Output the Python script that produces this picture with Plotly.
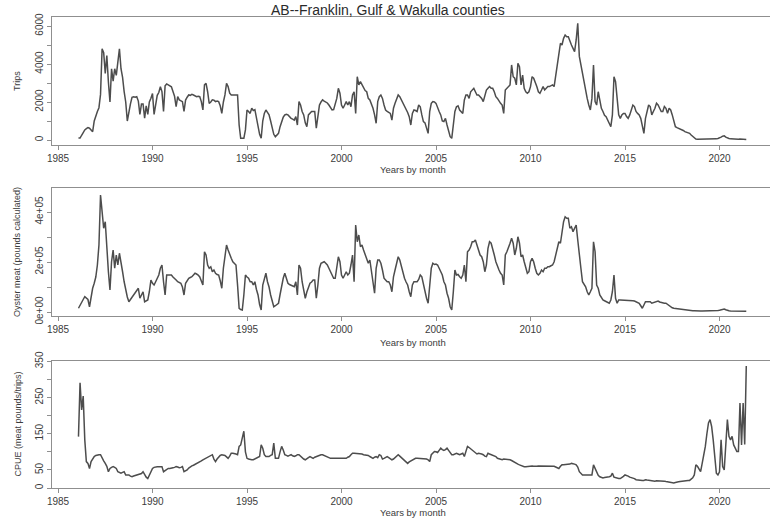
import pandas as pd
import plotly.graph_objects as go

# ---------------- data (monthly, Feb 1986 - Jun 2021) ----------------
start_month = "1986-02-01"

trips = [
    100, 100, 250, 400, 530, 600, 650, 620, 500, 440, 1000,
    1320, 1500, 1700, 2400, 4800, 4600, 3500, 4450, 3050, 2000, 3750, 3100,
    3750, 3400, 4100, 4800, 3750, 3300, 2550, 2000, 1000, 1500, 1900, 2250,
    2280, 2250, 2280, 2050, 1350, 1900, 1900, 1150, 1800, 1350, 2000, 2200,
    2450, 1350, 2000, 2350, 2500, 2800, 2550, 1500, 2850, 2950, 2900, 2850,
    2800, 2550, 2300, 1750, 2280, 2110, 2050, 2020, 1500, 2100, 2250, 2370,
    2350, 2400, 2370, 2300, 2280, 2300, 2280, 2020, 1580, 2900, 2980, 2540,
    1930, 2000, 2110, 2100, 2020, 2050, 2020, 1800, 1400, 2000, 2370, 2980,
    2810, 2460, 2370, 2370, 2370, 2370, 2370, 790, 90, 90, 90, 530,
    1580, 1500, 1400, 1670, 1550, 1600, 1140, 790, 300, 90, 1000, 1400,
    1580, 1450, 1320, 1000, 700, 300, 175, 250, 350, 700, 970, 1200,
    1320, 1350, 1320, 1200, 1140, 1100, 1050, 1230, 790, 2020, 1840, 1500,
    1320, 900, 700, 1320, 1400, 1500, 1500, 1500, 620, 1320, 1840, 2000,
    2110, 2050, 2020, 1950, 1840, 1700, 1580, 1600, 1900, 2190, 2720, 2460,
    1840, 1670, 1840, 2020, 1840, 2020, 1750, 2370, 2540, 1400, 3330, 2900,
    3070, 2900, 2720, 2600, 2540, 2190, 2110, 1900, 1670, 1320, 880, 2020,
    2280, 2370, 2190, 1840, 1580, 1500, 1450, 1400, 1050, 1670, 1930, 2150,
    2370, 2280, 2110, 1930, 1760, 1670, 1450, 1230, 790, 1400, 1580, 1550,
    1500, 1840, 1750, 1320, 970, 900, 620, 350, 1500, 1930, 2020, 2000,
    1930, 1670, 1500, 1320, 1000, 970, 1140, 790, 530, 175, 90, 790,
    1500, 1750, 1800, 1580, 1500, 1400, 2110, 2370, 2370, 2190, 2540, 2630,
    2720, 2540, 2370, 2370, 2280, 2190, 2020, 2370, 2630, 2720, 2810, 2720,
    2720, 2540, 2280, 2190, 2020, 1930, 1840, 1400, 2630, 2720, 2810, 2900,
    3950, 3330, 3250, 2900, 4040, 3860, 2900, 3420, 2720, 2540, 2460, 2540,
    2810, 3330, 3250, 3070, 2810, 2540, 2460, 2630, 2810, 2630, 2720, 2810,
    2810, 2850, 2900, 2810, 3420, 3950, 4385, 5090, 5000, 5350, 5525, 5440,
    5440, 5175, 5000, 4825, 4650, 5265, 6140, 4400, 3950, 3510, 2900, 2630,
    2190, 1840, 1580, 2190, 3950, 2020, 1840, 2540, 2020, 1670, 1500, 1300,
    1230, 1050, 790, 700, 1320, 3330, 3070, 2020, 1320, 1140, 1320, 1400,
    1400, 1230, 1140, 1320, 1580, 1840, 1760, 1500, 1400, 1320, 1140, 790,
    350, 1140, 1500, 1840, 1760, 1320, 1500, 1670, 1930, 1840, 1670, 1500,
    1500, 1760, 1670, 1400, 1670, 1580, 1320, 970, 700, 650, 620, 580,
    530, 500, 440, 420, 380, 350, 260, 175, 100, 50, 40, 40,
    40, 40, 40, 50, 40, 30, 40, 40, 50, 60, 60, 80,
    100, 150, 200, 220, 150, 100, 80, 60, 50, 50, 40, 40,
    40, 50, 40, 40, 40, 30,
]

meat = [
    15000, 25000, 35000, 50000, 61000, 55000, 50000, 21000, 68000, 95000, 115000,
    140000, 188000, 268000, 468000, 400000, 335000, 361000, 241000, 161000, 88000, 201000, 248000,
    175000, 228000, 188000, 235000, 188000, 161000, 121000, 81000, 60000, 41000, 50000, 55000,
    68000, 75000, 81000, 95000, 55000, 70000, 81000, 41000, 45000, 48000, 81000, 128000,
    115000, 108000, 121000, 135000, 148000, 175000, 188000, 121000, 68000, 148000, 148000, 150000,
    148000, 140000, 135000, 128000, 121000, 118000, 115000, 100000, 68000, 115000, 125000, 135000,
    138000, 141000, 148000, 155000, 152000, 148000, 140000, 125000, 108000, 241000, 228000, 188000,
    175000, 181000, 161000, 168000, 155000, 150000, 148000, 125000, 95000, 175000, 220000, 268000,
    248000, 228000, 215000, 201000, 195000, 188000, 108000, 15000, 10000, 8000, 68000, 148000,
    140000, 135000, 121000, 121000, 108000, 121000, 90000, 68000, 30000, 8000, 108000, 135000,
    155000, 121000, 100000, 68000, 45000, 21000, 25000, 30000, 35000, 70000, 108000, 135000,
    155000, 135000, 115000, 110000, 108000, 105000, 101000, 121000, 68000, 188000, 175000, 121000,
    90000, 55000, 80000, 95000, 115000, 120000, 128000, 128000, 55000, 108000, 175000, 195000,
    198000, 201000, 195000, 188000, 175000, 161000, 150000, 135000, 135000, 175000, 221000, 201000,
    148000, 135000, 148000, 161000, 148000, 155000, 188000, 228000, 121000, 348000, 281000, 308000,
    261000, 268000, 248000, 230000, 215000, 195000, 208000, 161000, 121000, 75000, 175000, 208000,
    208000, 195000, 168000, 135000, 128000, 121000, 121000, 108000, 81000, 141000, 168000, 200000,
    221000, 208000, 181000, 161000, 135000, 120000, 108000, 81000, 61000, 108000, 121000, 121000,
    121000, 130000, 148000, 141000, 108000, 81000, 55000, 35000, 108000, 175000, 195000, 190000,
    192000, 188000, 175000, 160000, 148000, 121000, 108000, 75000, 55000, 21000, 8000, 81000,
    168000, 148000, 150000, 141000, 135000, 148000, 188000, 121000, 241000, 248000, 261000, 281000,
    281000, 288000, 268000, 248000, 228000, 221000, 201000, 161000, 188000, 255000, 281000, 275000,
    255000, 228000, 201000, 181000, 168000, 155000, 148000, 108000, 228000, 241000, 255000, 275000,
    295000, 275000, 228000, 255000, 301000, 275000, 221000, 228000, 201000, 175000, 155000, 161000,
    201000, 215000, 201000, 175000, 155000, 148000, 155000, 168000, 161000, 175000, 175000, 181000,
    181000, 185000, 188000, 201000, 228000, 248000, 281000, 275000, 321000, 361000, 381000, 375000,
    375000, 335000, 341000, 321000, 335000, 348000, 288000, 241000, 175000, 121000, 108000, 101000,
    81000, 68000, 81000, 95000, 281000, 241000, 108000, 95000, 68000, 55000, 48000, 45000,
    41000, 38000, 35000, 48000, 81000, 148000, 55000, 35000, 48000, 48000, 48000, 48000,
    48000, 47000, 48000, 48000, 48000, 45000, 44000, 41000, 35000, 35000, 25000, 15000,
    28000, 41000, 41000, 40000, 41000, 35000, 38000, 41000, 44000, 44000, 40000, 38000,
    35000, 35000, 35000, 30000, 28000, 22000, 17000, 15000, 14000, 13000, 12000, 12000,
    12000, 11000, 11000, 10000, 9000, 7000, 6000, 5000, 5000, 4000, 4000, 4000,
    4000, 4000, 4000, 4000, 3500, 3500, 3500, 4000, 4000, 4500, 5000, 6000,
    7000, 9000, 11000, 12000, 9000, 6000, 5000, 4000, 4000, 3500, 3000, 3000,
    3500, 4000, 3500, 3000, 3000, 2500,
]

cpue = [
    142, 291, 216, 254, 133, 73, 68, 54, 73, 82, 87,
    90, 92, 92, 92, 82, 75, 68, 60, 45, 54, 57, 59,
    57, 54, 45, 43, 41, 43, 45, 36, 36, 36, 33, 31,
    33, 34, 36, 36, 38, 40, 45, 35, 30, 26, 35, 45,
    54, 57, 59, 59, 59, 59, 59, 45, 48, 50, 54, 54,
    54, 56, 57, 59, 58, 56, 57, 59, 45, 47, 50, 55,
    59, 61, 63, 65, 68, 70, 73, 75, 78, 80, 82, 84,
    87, 90, 92, 80, 73, 80, 86, 90, 92, 92, 90, 86,
    82, 88, 96, 96, 96, 94, 92, 115, 119, 138, 157, 100,
    82, 80, 78, 78, 78, 80, 82, 85, 87, 119, 110, 92,
    87, 87, 87, 90, 92, 124, 82, 82, 82, 100, 115, 105,
    92, 90, 88, 90, 92, 89, 87, 89, 92, 92, 87, 82,
    80, 78, 80, 84, 87, 84, 82, 85, 87, 90, 92, 92,
    92, 90, 87, 85, 83, 82, 82, 82, 82, 82, 82, 82,
    82, 82, 82, 82, 85, 87, 92, 96, 96, 96, 96, 96,
    95, 94, 92, 92, 92, 90, 87, 84, 82, 85, 87, 84,
    92, 90, 80, 82, 85, 87, 84, 80, 78, 80, 84, 88,
    92, 88, 84, 82, 78, 72, 68, 72, 75, 78, 80, 82,
    82, 82, 82, 82, 82, 82, 80, 78, 73, 92, 96, 101,
    100, 98, 104, 110, 106, 104, 106, 110, 104, 98, 92, 92,
    94, 96, 94, 92, 94, 96, 87, 100, 115, 112, 108, 104,
    101, 98, 94, 96, 96, 94, 92, 88, 87, 96, 94, 92,
    92, 90, 87, 82, 80, 78, 78, 80, 80, 79, 78, 78,
    76, 73, 70, 68, 66, 64, 62, 60, 59, 59, 60, 60,
    60, 61, 60, 59, 60, 61, 61, 60, 61, 61, 61, 61,
    60, 60, 61, 60, 58, 56, 54, 60, 64, 64, 64, 64,
    64, 66, 68, 68, 66, 64, 58, 45, 40, 36, 36, 36,
    36, 36, 36, 36, 64, 55, 45, 35, 31, 29, 28, 29,
    29, 30, 31, 33, 41, 30, 28, 27, 26, 26, 28, 32,
    36, 35, 33, 30, 29, 28, 26, 23, 22, 21, 21, 21,
    21, 23, 22, 21, 21, 21, 20, 19, 20, 20, 21, 21,
    21, 19, 18, 17, 15, 14, 13, 14, 15, 17, 17, 18,
    19, 19, 20, 20, 21, 21, 24, 28, 36, 64, 60, 52,
    45, 68, 90, 115, 150, 180, 189, 170, 133, 78, 41, 36,
    45, 133, 59, 50, 133, 189, 143, 133, 143, 119, 110, 101,
    101, 235, 119, 235, 120, 337,
]

year_ticks = [1985, 1990, 1995, 2000, 2005, 2010, 2015, 2020]
trips_ticks = [0, 1000, 2000, 3000, 4000, 5000, 6000]
trips_labels = ["0", "", "2000", "", "4000", "", "6000"]
meat_ticks = [0, 100000, 200000, 300000, 400000]
meat_labels = ["0e+00", "", "2e+05", "", "4e+05"]
cpue_ticks = [0, 50, 100, 150, 200, 250, 300, 350]
cpue_labels = ["0", "50", "", "150", "", "250", "", "350"]

title = "AB--Franklin, Gulf & Wakulla counties"
xlab = "Years by month"
ylabs = ["Trips", "Oyster meat (pounds calculated)", "CPUE (meat pounds/trips)"]

# ---------------- figure ----------------
W, H = 770, 521
dates = pd.date_range(start_month, periods=len(trips), freq="MS")
x = list(dates.year + (dates.month - 1) / 12.0)

FONT = "Liberation Sans, Arial, sans-serif"
LINE = "#4d4d4d"
AXC = "#8f8f8f"
TXT = "#3c3c3c"

# panel pixel boxes (top, bottom)
panels = [(17, 145), (188, 316), (361, 488)]
yranges = [[-263, 6474], [-16000, 496000], [0, 351]]
series = [trips, meat, cpue]
ytv = [trips_ticks, meat_ticks, cpue_ticks]
ytt = [trips_labels, meat_labels, cpue_labels]
xlab_y = [170, 342, 512]

left_px = 52
x_range = [1985 + (left_px - 58) / 18.9, 1985 + (W - 58) / 18.9]

fig = go.Figure()
layout = dict(
    width=W, height=H,
    margin=dict(l=0, r=0, t=0, b=0, pad=0, autoexpand=False),
    paper_bgcolor="white", plot_bgcolor="white",
    showlegend=False,
    font=dict(family=FONT, color=TXT),
)
annotations = []
for i, (top, bot) in enumerate(panels):
    n = "" if i == 0 else str(i + 1)
    fig.add_trace(go.Scatter(
        x=x, y=series[i], mode="lines",
        line=dict(color=LINE, width=1.5),
        xaxis="x" + n, yaxis="y" + n, hoverinfo="skip",
    ))
    layout["xaxis" + n] = dict(
        domain=[left_px / W, 1.0], range=x_range, anchor="y" + n,
        showline=True, mirror=True, linecolor=AXC, linewidth=1.2,
        ticks="outside", ticklen=4, tickcolor=AXC,
        tickvals=year_ticks, ticktext=[str(v) for v in year_ticks],
        tickfont=dict(size=10, color=TXT, family=FONT),
        showgrid=False, zeroline=False, automargin=False,
    )
    layout["yaxis" + n] = dict(
        domain=[1 - bot / H, 1 - top / H], range=yranges[i], anchor="x" + n,
        showline=True, mirror=False, linecolor=AXC, linewidth=1.2,
        ticks="outside", ticklen=4, tickcolor=AXC,
        tickvals=ytv[i], ticktext=ytt[i], tickangle=-90,
        tickfont=dict(size=10, color=TXT, family=FONT),
        showgrid=False, zeroline=False, automargin=False,
    )
    annotations.append(dict(
        text=xlab, x=413 / W, y=1 - xlab_y[i] / H, xref="paper", yref="paper",
        showarrow=False, xanchor="center", yanchor="middle",
        font=dict(size=9.5, color=TXT, family=FONT),
    ))
    annotations.append(dict(
        text=ylabs[i], x=17 / W, y=1 - (top + bot) / 2 / H, xref="paper", yref="paper",
        showarrow=False, xanchor="center", yanchor="middle", textangle=-90,
        font=dict(size=9, color=TXT, family=FONT),
    ))

annotations.append(dict(
    text=title, x=388 / W, y=1 - 10 / H, xref="paper", yref="paper",
    showarrow=False, xanchor="center", yanchor="middle",
    font=dict(size=14, color="#2a2a2a", family=FONT),
))
layout["annotations"] = annotations
fig.update_layout(**layout)
fig.write_html(
    "out.html",
    config={"displayModeBar": False, "staticPlot": True},
    post_script="document.body.style.margin='0px';document.body.style.padding='0px';",
)
